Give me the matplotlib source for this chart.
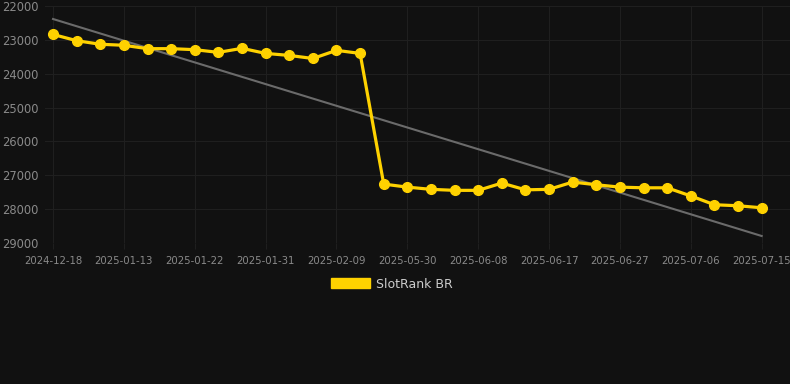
import matplotlib.pyplot as plt
import numpy as np
from matplotlib.patches import Patch

# rank values (y axis is reversed: lower rank = better)
dates = ['2024-12-18', '2024-12-27', '2025-01-04', '2025-01-13', '2025-01-16', '2025-01-19',
         '2025-01-22', '2025-01-25', '2025-01-28', '2025-01-31', '2025-02-03', '2025-02-06',
         '2025-02-09', '2025-02-12', '2025-05-24', '2025-05-30', '2025-06-02', '2025-06-05',
         '2025-06-08', '2025-06-11', '2025-06-14', '2025-06-17', '2025-06-20', '2025-06-24',
         '2025-06-27', '2025-06-30', '2025-07-03', '2025-07-06', '2025-07-09', '2025-07-12',
         '2025-07-15']
ranks = [22840, 23025, 23130, 23160, 23260, 23260, 23290, 23370, 23250, 23400, 23460,
         23550, 23310, 23400, 27260, 27350, 27415, 27445, 27445, 27230, 27430, 27415,
         27200, 27280, 27350, 27370, 27370, 27610, 27870, 27900, 27960]
trend_ends = [22384, 28793]   # grey trend line, first and last point

bg = '#111111'
gold = '#FFD200'
tick_col = '#8a8a8a'
grid_col = '#1f1f1f'

fig = plt.figure(figsize=(7.9, 3.84), dpi=100, facecolor=bg)
ax = fig.add_axes([45 / 790, 1 - 243 / 384, 745 / 790, 237 / 384])
ax.set_facecolor(bg)

x = np.arange(len(dates))
ax.plot([x[0], x[-1]], trend_ends, color='#6b6b6b', lw=1.5, zorder=2)
ax.plot(x, ranks, color=gold, lw=2.3, marker='o', ms=7, zorder=3)

ax.set_xlim(-0.34, 31.2)
ax.set_ylim(29000, 22000)
ax.set_yticks(range(22000, 29001, 1000))
ax.set_xticks(x[::3])
ax.set_xticklabels(dates[::3])

ax.grid(True, color=grid_col, lw=0.8)
for s in ax.spines.values():
    s.set_visible(False)
ax.tick_params(axis='x', colors=tick_col, labelsize=7.3, length=4, color=grid_col, pad=5)
ax.tick_params(axis='y', colors=tick_col, labelsize=8.3, length=0, pad=4)
for lab in ax.get_yticklabels():
    lab.set_horizontalalignment('left')
    lab.set_x(-37 / 745)

fig.legend(handles=[Patch(facecolor=gold, edgecolor=gold)], labels=['SlotRank BR'],
           loc='center', bbox_to_anchor=(392 / 790, 1 - 284 / 384), frameon=False,
           fontsize=9, labelcolor='#cccccc', handlelength=3.1, handleheight=0.9,
           handletextpad=0.5)

fig.savefig('out.png', facecolor=bg)
